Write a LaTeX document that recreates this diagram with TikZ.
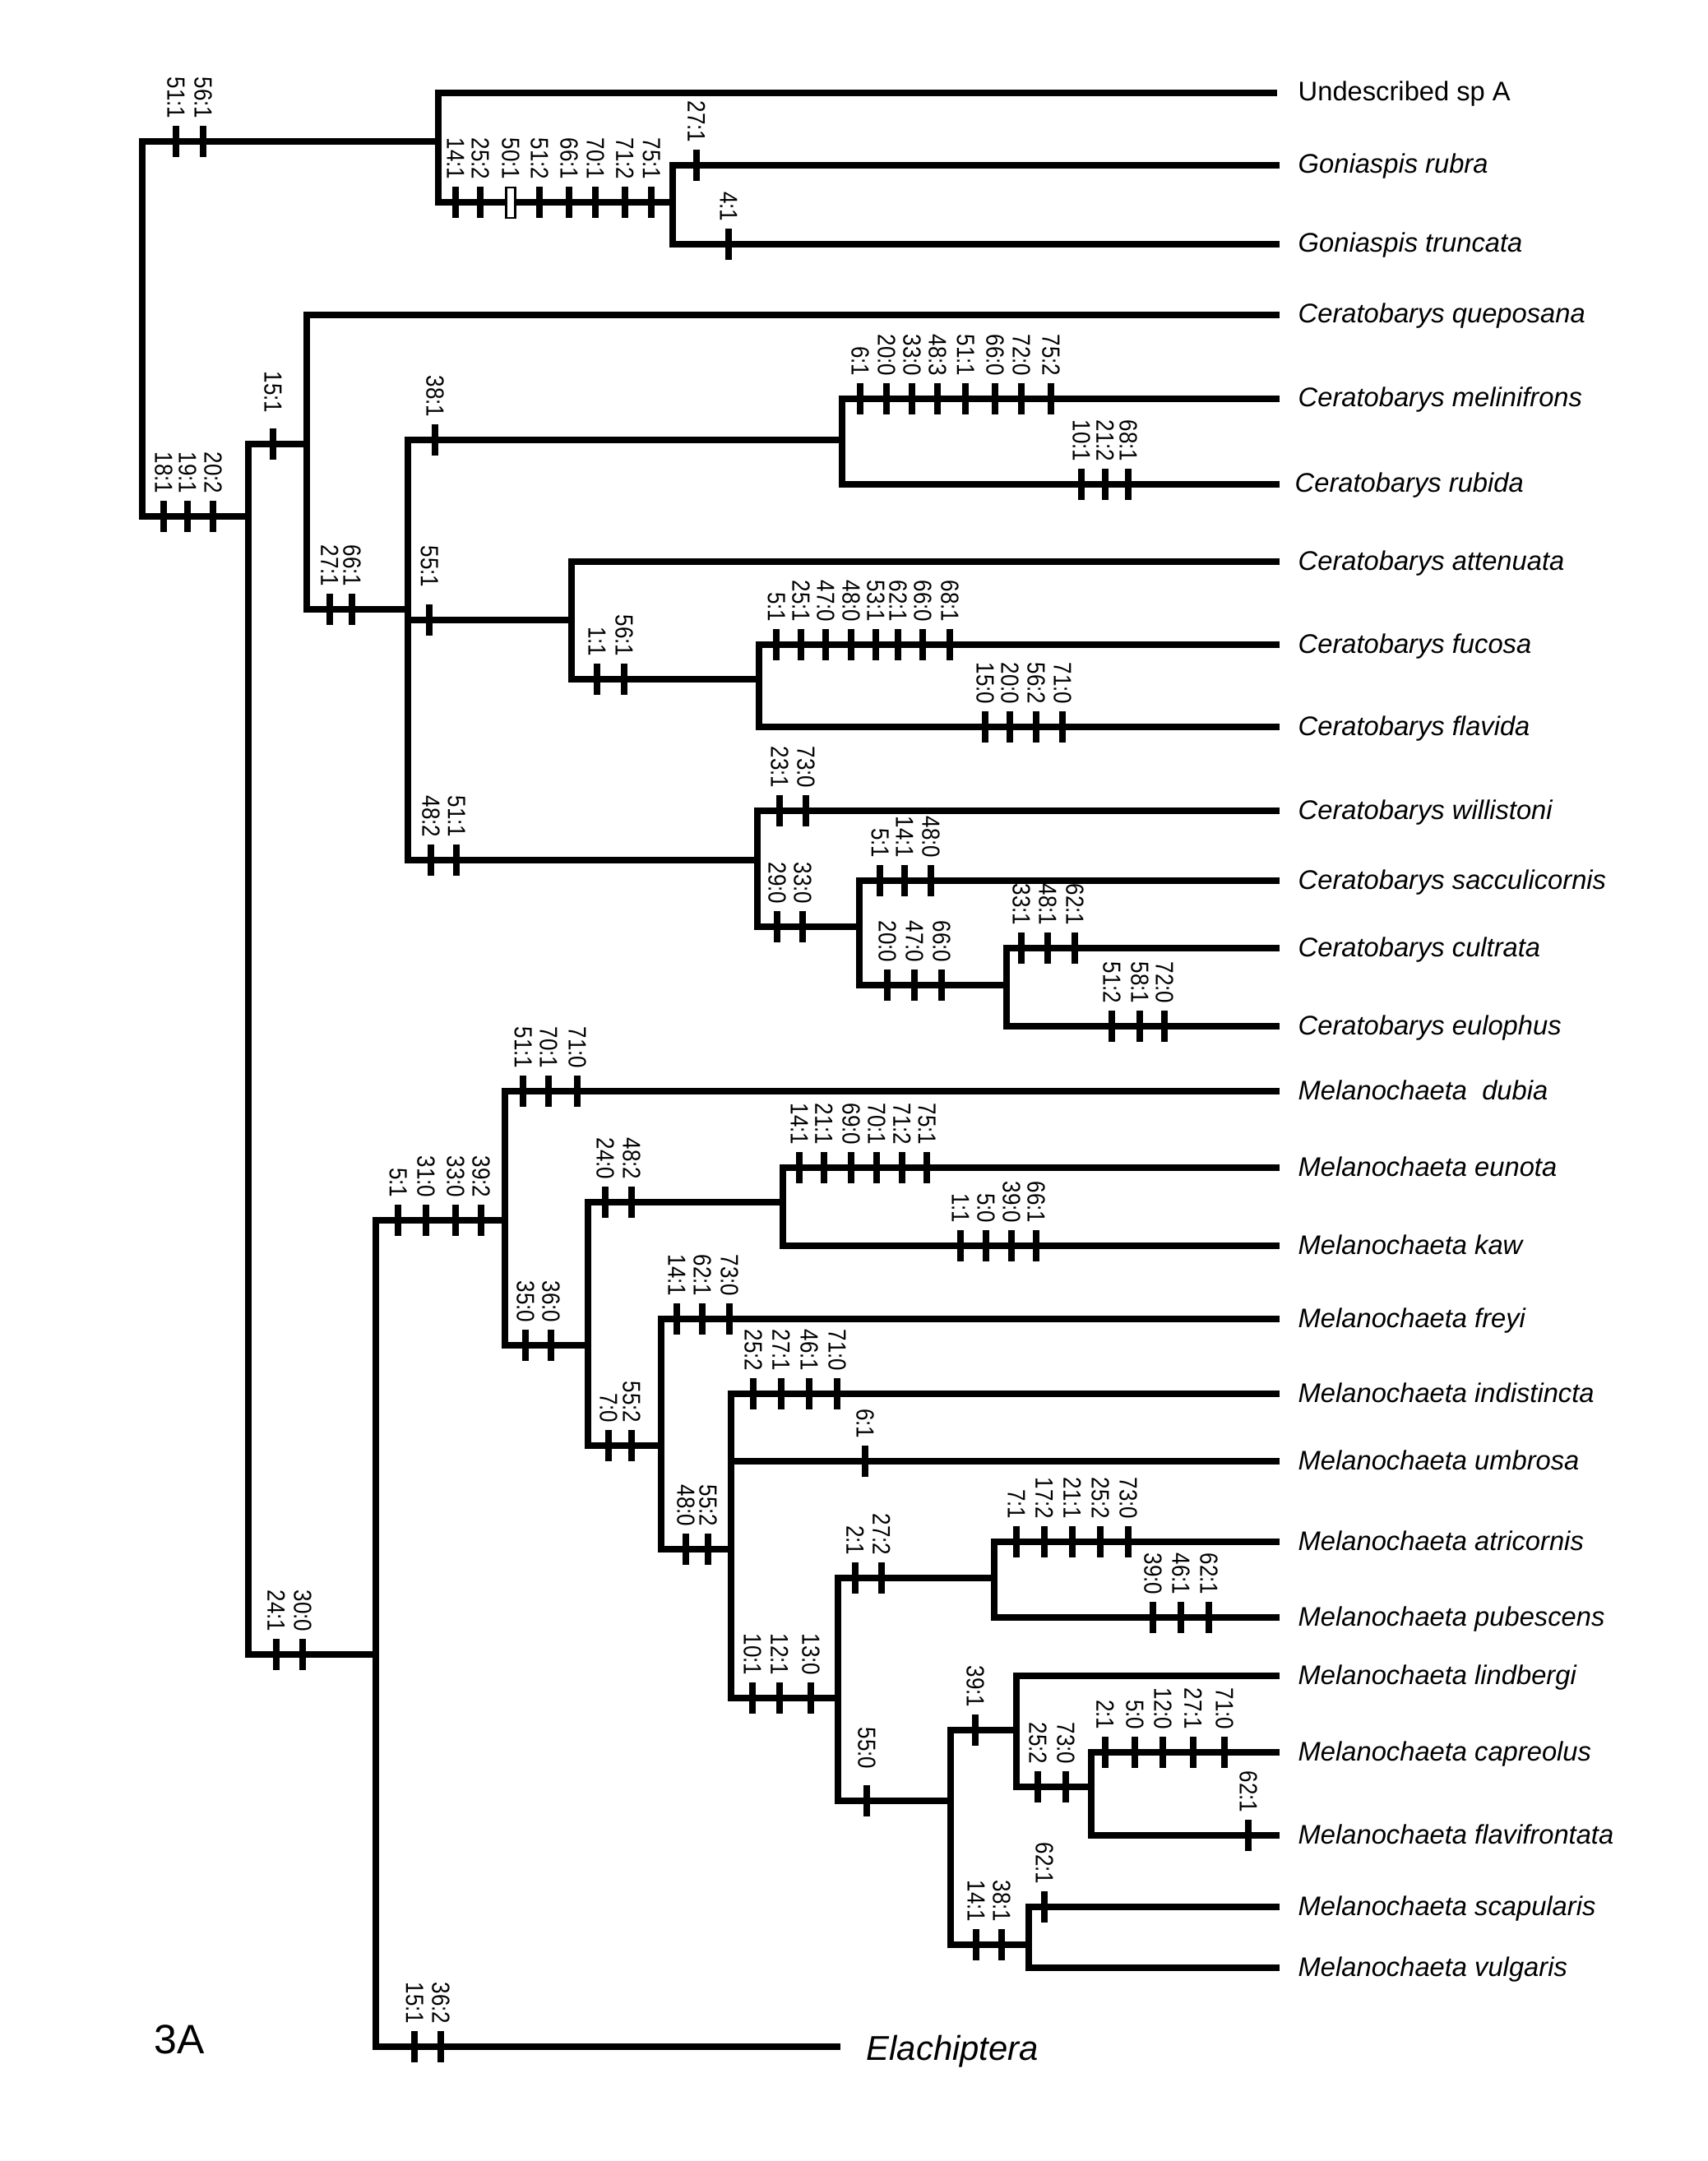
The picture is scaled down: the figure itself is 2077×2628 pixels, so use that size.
\documentclass[tikz,border=0pt]{standalone}
\usepackage{fontspec}
\setmainfont{Liberation Sans}
\usepackage{graphicx}
\newcounter{chrn}
\tikzset{
  br/.style={line width=2.2pt, line join=miter},
  tickline/.style={line width=2.2pt},
  chr/.style={rotate=-90, anchor=east, inner sep=0pt, font=\fontsize{8.6}{9}\selectfont},
  tiplab/.style={anchor=base west, inner sep=0pt, font=\fontsize{9.3}{11}\selectfont\itshape},
}
% tick: [extra gap]{x}{y}{label}
\newcommand{\tk}[4][0]{%
  \draw[tickline] (#2,#3-19) -- (#2,#3+19);
  \stepcounter{chrn}%
  \node[chr] (chr\arabic{chrn}) at (#2,#3-27-#1) {\scalebox{0.86}[1]{#4}};
}
\begin{document}
\begin{tikzpicture}[x=0.01cm,y=-0.01cm]
\useasboundingbox (0,0) rectangle (2077,2628);
% ---------- internal nodes ----------
\coordinate (root) at (173,400);
\coordinate (G0) at (533,172);
\coordinate (G1) at (818,246);
\coordinate (C0) at (302,628);
\coordinate (C1) at (373,540);
\coordinate (B) at (496,741);
\coordinate (Mel) at (1024,535);
\coordinate (Att) at (695,754);
\coordinate (Fuc) at (923,826);
\coordinate (Wil) at (921,1046);
\coordinate (Sac) at (1045,1127);
\coordinate (Cul) at (1224,1198);
\coordinate (M0) at (457,2012);
\coordinate (M1) at (614,1484);
\coordinate (M2) at (715,1636);
\coordinate (M3) at (952,1462);
\coordinate (M4) at (804,1758);
\coordinate (M5) at (889,1884);
\coordinate (M6) at (1019,2065);
\coordinate (M7) at (1209,1919);
\coordinate (M8) at (1156,2190);
\coordinate (M9) at (1236,2104);
\coordinate (M10) at (1327,2173);
\coordinate (M11) at (1251,2365);
% ---------- tips ----------
\def\tipx{1556}
\def\labx{1578}
\coordinate (tUnd) at (1553,113);
\coordinate (trub) at (\tipx,201);
\coordinate (ttru) at (\tipx,297);
\coordinate (tque) at (\tipx,383);
\coordinate (tmel) at (\tipx,485);
\coordinate (trbd) at (\tipx,589);
\coordinate (tatt) at (\tipx,683);
\coordinate (tfuc) at (\tipx,784);
\coordinate (tfla) at (\tipx,884);
\coordinate (twil) at (\tipx,986);
\coordinate (tsac) at (\tipx,1071);
\coordinate (tcul) at (\tipx,1153);
\coordinate (teul) at (\tipx,1248);
\coordinate (tdub) at (\tipx,1327);
\coordinate (teun) at (\tipx,1420);
\coordinate (tkaw) at (\tipx,1515);
\coordinate (tfre) at (\tipx,1604);
\coordinate (tind) at (\tipx,1695);
\coordinate (tumb) at (\tipx,1777);
\coordinate (tatr) at (\tipx,1875);
\coordinate (tpub) at (\tipx,1967);
\coordinate (tlin) at (\tipx,2038);
\coordinate (tcap) at (\tipx,2131);
\coordinate (tflv) at (\tipx,2232);
\coordinate (tsca) at (\tipx,2319);
\coordinate (tvul) at (\tipx,2393);
\coordinate (tEla) at (1022,2489);
% ---------- branches ----------
\draw[br] (root) |- (G0);
\draw[br] (root) |- (C0);
\draw[br] (G0) |- (tUnd);
\draw[br] (G0) |- (G1);
\draw[br] (G1) |- (trub);
\draw[br] (G1) |- (ttru);
\draw[br] (C0) |- (C1);
\draw[br] (C0) |- (M0);
\draw[br] (C1) |- (tque);
\draw[br] (C1) |- (B);
\draw[br] (B) |- (Mel);
\draw[br] (B) |- (Att);
\draw[br] (B) |- (Wil);
\draw[br] (Mel) |- (tmel);
\draw[br] (Mel) |- (trbd);
\draw[br] (Att) |- (tatt);
\draw[br] (Att) |- (Fuc);
\draw[br] (Fuc) |- (tfuc);
\draw[br] (Fuc) |- (tfla);
\draw[br] (Wil) |- (twil);
\draw[br] (Wil) |- (Sac);
\draw[br] (Sac) |- (tsac);
\draw[br] (Sac) |- (Cul);
\draw[br] (Cul) |- (tcul);
\draw[br] (Cul) |- (teul);
\draw[br] (M0) |- (M1);
\draw[br] (M0) |- (tEla);
\draw[br] (M1) |- (tdub);
\draw[br] (M1) |- (M2);
\draw[br] (M2) |- (M3);
\draw[br] (M2) |- (M4);
\draw[br] (M3) |- (teun);
\draw[br] (M3) |- (tkaw);
\draw[br] (M4) |- (tfre);
\draw[br] (M4) |- (M5);
\draw[br] (M5) |- (tind);
\draw[br] (M5) |- (tumb);
\draw[br] (M5) |- (M6);
\draw[br] (M6) |- (M7);
\draw[br] (M6) |- (M8);
\draw[br] (M7) |- (tatr);
\draw[br] (M7) |- (tpub);
\draw[br] (M8) |- (M9);
\draw[br] (M8) |- (M11);
\draw[br] (M9) |- (tlin);
\draw[br] (M9) |- (M10);
\draw[br] (M10) |- (tcap);
\draw[br] (M10) |- (tflv);
\draw[br] (M11) |- (tsca);
\draw[br] (M11) |- (tvul);
% ---------- tip labels ----------
\node[tiplab, font=\fontsize{9.3}{11}\selectfont] (lUnd) at (\labx,113+10) {Undescribed sp A};
\node[tiplab] (lrub) at (\labx,201+10) {Goniaspis rubra};
\node[tiplab] (ltru) at (\labx,297+10) {Goniaspis truncata};
\node[tiplab] (lque) at (\labx,383+10) {Ceratobarys queposana};
\node[tiplab] (lmel) at (\labx,485+10) {Ceratobarys melinifrons};
\node[tiplab] (lrbd) at (\labx-4,589+10) {Ceratobarys rubida};
\node[tiplab] (latt) at (\labx,683+10) {Ceratobarys attenuata};
\node[tiplab] (lfuc) at (\labx,784+10) {Ceratobarys fucosa};
\node[tiplab] (lfla) at (\labx,884+10) {Ceratobarys flavida};
\node[tiplab] (lwil) at (\labx,986+10) {Ceratobarys willistoni};
\node[tiplab] (lsac) at (\labx,1071+10) {Ceratobarys sacculicornis};
\node[tiplab] (lcul) at (\labx,1153+10) {Ceratobarys cultrata};
\node[tiplab] (leul) at (\labx,1248+10) {Ceratobarys eulophus};
\node[tiplab] (ldub) at (\labx,1327+10) {Melanochaeta\ \ dubia};
\node[tiplab] (leun) at (\labx,1420+10) {Melanochaeta eunota};
\node[tiplab] (lkaw) at (\labx,1515+10) {Melanochaeta kaw};
\node[tiplab] (lfre) at (\labx,1604+10) {Melanochaeta freyi};
\node[tiplab] (lind) at (\labx,1695+10) {Melanochaeta indistincta};
\node[tiplab] (lumb) at (\labx,1777+10) {Melanochaeta umbrosa};
\node[tiplab] (latr) at (\labx,1875+10) {Melanochaeta atricornis};
\node[tiplab] (lpub) at (\labx,1967+10) {Melanochaeta pubescens};
\node[tiplab] (llin) at (\labx,2038+10) {Melanochaeta lindbergi};
\node[tiplab] (lcap) at (\labx,2131+10) {Melanochaeta capreolus};
\node[tiplab] (lflv) at (\labx,2232+10) {Melanochaeta flavifrontata};
\node[tiplab] (lsca) at (\labx,2319+10) {Melanochaeta scapularis};
\node[tiplab] (lvul) at (\labx,2393+10) {Melanochaeta vulgaris};
\node[tiplab, font=\fontsize{11.9}{14}\selectfont\itshape] (lEla) at (1053,2489+16) {Elachiptera};
\node[anchor=base west, inner sep=0pt, font=\fontsize{14.2}{16}\selectfont] (fig) at (187,2497) {3A};
% ---------- character ticks ----------
\tk{214}{172}{51:1}\tk{247}{172}{56:1}
\tk{554}{246}{14:1}\tk{584}{246}{25:2}
\draw[line width=0.6pt, fill=white] (615.5,228) rectangle (626.5,265);
\stepcounter{chrn}\node[chr] (chr\arabic{chrn}) at (621,246-27) {\scalebox{0.86}[1]{50:1}};
\tk{656}{246}{51:2}\tk{692}{246}{66:1}\tk{724}{246}{70:1}\tk{760}{246}{71:2}\tk{792}{246}{75:1}
\tk{847}{201}{27:1}
\tk{886}{297}{4:1}
\tk{199}{628}{18:1}\tk{228}{628}{19:1}\tk{259}{628}{20:2}
\tk[10]{332}{540}{15:1}
\tk{401}{741}{27:1}\tk{428}{741}{66:1}
\tk{529}{535}{38:1}
\tk{1046}{485}{6:1}\tk{1078}{485}{20:0}\tk{1109}{485}{33:0}\tk{1140}{485}{48:3}
\tk{1174}{485}{51:1}\tk{1210}{485}{66:0}\tk{1242}{485}{72:0}\tk{1278}{485}{75:2}
\tk{1315}{589}{10:1}\tk{1344}{589}{21:2}\tk{1372}{589}{68:1}
\tk[12]{522}{754}{55:1}
\tk{726}{826}{1:1}\tk{759}{826}{56:1}
\tk{944}{784}{5:1}\tk{974}{784}{25:1}\tk{1004}{784}{47:0}\tk{1035}{784}{48:0}
\tk{1065}{784}{53:1}\tk{1092}{784}{62:1}\tk{1122}{784}{66:0}\tk{1155}{784}{68:1}
\tk{1198}{884}{15:0}\tk{1228}{884}{20:0}\tk{1260}{884}{56:2}\tk{1292}{884}{71:0}
\tk{524}{1046}{48:2}\tk{555}{1046}{51:1}
\tk{948}{986}{23:1}\tk{980}{986}{73:0}
\tk{945}{1127}{29:0}\tk{976}{1127}{33:0}
\tk{1070}{1071}{5:1}\tk{1100}{1071}{14:1}\tk{1132}{1071}{48:0}
\tk{1079}{1198}{20:0}\tk{1112}{1198}{47:0}\tk{1145}{1198}{66:0}
\tk{1242}{1153}{33:1}\tk{1274}{1153}{48:1}\tk{1307}{1153}{62:1}
\tk{1352}{1248}{51:2}\tk{1386}{1248}{58:1}\tk{1416}{1248}{72:0}
% Melanochaeta
\tk{336}{2012}{24:1}\tk{368}{2012}{30:0}
\tk{484}{1484}{5:1}\tk{518}{1484}{31:0}\tk{554}{1484}{33:0}\tk{585}{1484}{39:2}
\tk{636}{1327}{51:1}\tk{667}{1327}{70:1}\tk{702}{1327}{71:0}
\tk{639}{1636}{35:0}\tk{670}{1636}{36:0}
\tk{736}{1462}{24:0}\tk{768}{1462}{48:2}
\tk{972}{1420}{14:1}\tk{1002}{1420}{21:1}\tk{1035}{1420}{69:0}\tk{1066}{1420}{70:1}\tk{1097}{1420}{71:2}\tk{1127}{1420}{75:1}
\tk{1168}{1515}{1:1}\tk{1199}{1515}{5:0}\tk{1230}{1515}{39:0}\tk{1260}{1515}{66:1}
\tk{740}{1758}{7:0}\tk{768}{1758}{55:2}
\tk{823}{1604}{14:1}\tk{854}{1604}{62:1}\tk{887}{1604}{73:0}
\tk{916}{1695}{25:2}\tk{950}{1695}{27:1}\tk{984}{1695}{46:1}\tk{1018}{1695}{71:0}
\tk{1052}{1777}{6:1}
\tk{834}{1884}{48:0}\tk{861}{1884}{55:2}
\tk{915}{2065}{10:1}\tk{948}{2065}{12:1}\tk{986}{2065}{13:0}
\tk{1040}{1919}{2:1}\tk{1072}{1919}{27:2}
\tk{1236}{1875}{7:1}\tk{1270}{1875}{17:2}\tk{1304}{1875}{21:1}\tk{1338}{1875}{25:2}\tk{1372}{1875}{73:0}
\tk{1402}{1967}{39:0}\tk{1436}{1967}{46:1}\tk{1470}{1967}{62:1}
\tk[11]{1054}{2190}{55:0}
\tk{1186}{2104}{39:1}
\tk{1262}{2173}{25:2}\tk{1296}{2173}{73:0}
\tk{1344}{2131}{2:1}\tk{1380}{2131}{5:0}\tk{1414}{2131}{12:0}\tk{1451}{2131}{27:1}\tk{1489}{2131}{71:0}
\tk{1518}{2232}{62:1}
\tk{1187}{2365}{14:1}\tk{1218}{2365}{38:1}
\tk{1270}{2319}{62:1}
\tk{504}{2489}{15:1}\tk{536}{2489}{36:2}
\end{tikzpicture}
\end{document}
